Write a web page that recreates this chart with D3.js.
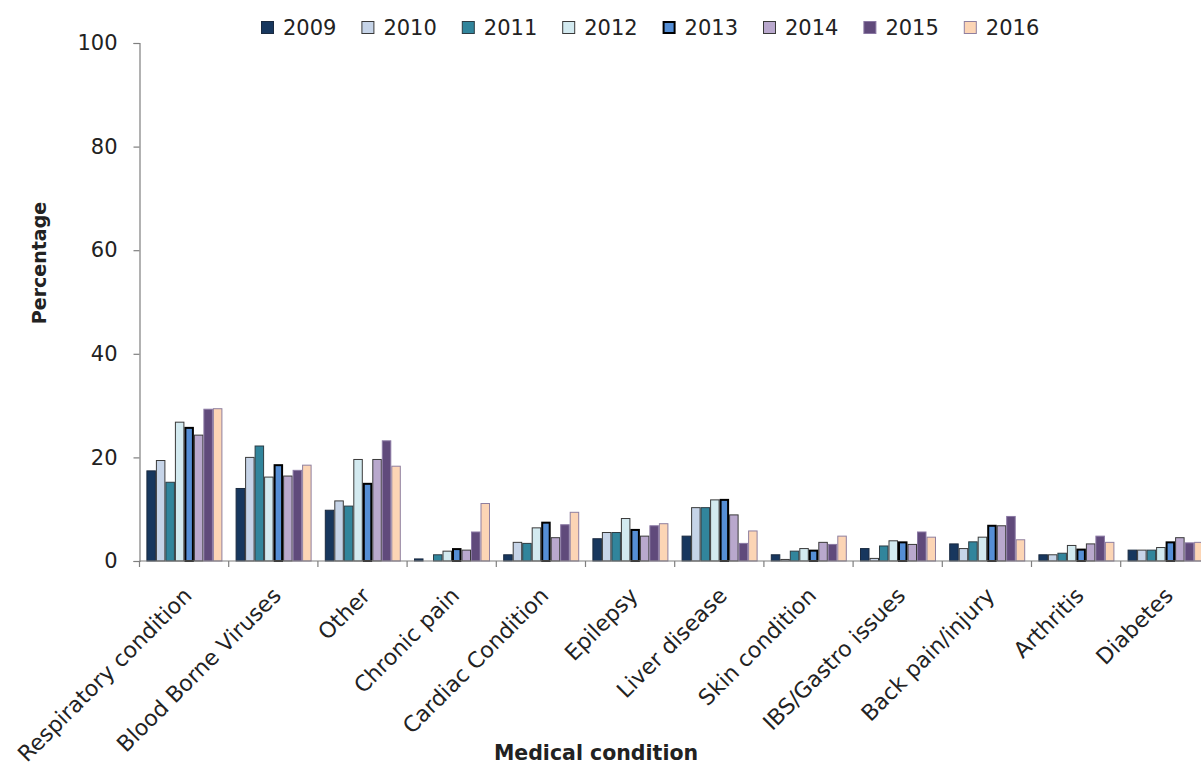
<!DOCTYPE html>
<html>
<head>
<meta charset="utf-8">
<script src="https://cdn.jsdelivr.net/npm/d3@7"></script>
<style>
  html, body { margin: 0; padding: 0; background: #fff; overflow: hidden; }
  svg { display: block; }
  text { font-family: "DejaVu Sans", sans-serif; fill: #222; }
</style>
</head>
<body>
<svg id="chart" width="1201" height="767"></svg>
<script>
// Medical conditions reported, by year (percentage)
const categories = [
  "Respiratory condition", "Blood Borne Viruses", "Other", "Chronic pain",
  "Cardiac Condition", "Epilepsy", "Liver disease", "Skin condition",
  "IBS/Gastro issues", "Back pain/injury", "Arthritis", "Diabetes"
];
const years = ["2009", "2010", "2011", "2012", "2013", "2014", "2015", "2016"];

const v2009 = [17.4, 14.0, 9.8, 0.4, 1.2, 4.3, 4.8, 1.2, 2.4, 3.3, 1.2, 2.1];
const v2010 = [19.4, 20.0, 11.6, 0.0, 3.6, 5.5, 10.3, 0.3, 0.5, 2.4, 1.2, 2.1];
const v2011 = [15.2, 22.2, 10.6, 1.2, 3.4, 5.5, 10.3, 1.9, 2.9, 3.7, 1.5, 2.1];
const v2012 = [26.8, 16.2, 19.6, 1.9, 6.4, 8.2, 11.8, 2.4, 3.9, 4.6, 3.0, 2.6];
const v2013 = [25.7, 18.5, 14.9, 2.3, 7.4, 6.0, 11.8, 2.0, 3.6, 6.8, 2.2, 3.6];
const v2014 = [24.3, 16.4, 19.6, 2.1, 4.5, 4.8, 8.9, 3.6, 3.2, 6.8, 3.3, 4.5];
const v2015 = [29.3, 17.5, 23.2, 5.6, 7.0, 6.8, 3.4, 3.2, 5.6, 8.6, 4.8, 3.5];
const v2016 = [29.4, 18.5, 18.3, 11.1, 9.4, 7.2, 5.8, 4.8, 4.6, 4.1, 3.6, 3.6];

const seriesValues = [v2009, v2010, v2011, v2012, v2013, v2014, v2015, v2016];
const yTicks = [0, 20, 40, 60, 80, 100];

// Series styling
const fills   = ["#17375E", "#C6D4E8", "#31859C", "#D3EAF0", "#558ED5", "#B9A8CD", "#604A7B", "#FCD5B5"];
const strokes = ["#1a2a40", "#3a3a3a", "#2c3c44", "#3a3a3a", "#000000", "#3a3a3a", "#8a78a3", "#8f7f9f"];
const strokeW = [1, 1, 1, 1, 2, 1, 1, 1];

const svg = d3.select("#chart");

const plot = { left: 139.5, top: 43, bottom: 561, groupW: 89.2 };

const x0 = d3.scaleBand()
  .domain(categories)
  .range([plot.left, plot.left + plot.groupW * categories.length])
  .paddingInner(0).paddingOuter(0);

const x1 = d3.scaleBand()
  .domain(years)
  .range([6.9, 6.9 + 76])
  .padding(0);

const y = d3.scaleLinear().domain([0, 100]).range([plot.bottom, plot.top]);

// Bars
const groups = svg.append("g").selectAll("g")
  .data(categories)
  .join("g")
  .attr("transform", d => `translate(${x0(d)},0)`);

groups.selectAll("rect")
  .data((c, ci) => years.map((yr, si) => ({ yr, si, v: seriesValues[si][ci] })))
  .join("rect")
  .attr("x", d => x1(d.yr) + strokeW[d.si] / 2)
  .attr("width", d => x1.bandwidth() - strokeW[d.si])
  .attr("y", d => y(d.v))
  .attr("height", d => Math.max(0, y(0) - y(d.v)))
  .attr("fill", d => fills[d.si])
  .attr("stroke", d => strokes[d.si])
  .attr("stroke-width", d => strokeW[d.si]);

// Y axis
const yAxis = d3.axisLeft(y).tickValues(yTicks).tickSize(6).tickPadding(16);
const gy = svg.append("g")
  .attr("transform", `translate(${plot.left},0)`)
  .call(yAxis);
gy.select(".domain").attr("stroke", "#7f7f7f").attr("stroke-width", 1.2);
gy.selectAll(".tick line").attr("stroke", "#7f7f7f").attr("stroke-width", 1.2);
gy.selectAll(".tick text")
  .attr("font-family", "DejaVu Sans, sans-serif")
  .attr("font-size", 21)
  .attr("fill", "#222");

// X axis: line along zero with tick marks at group boundaries
const gx = svg.append("g");
gx.append("line")
  .attr("x1", plot.left).attr("x2", x0.range()[1])
  .attr("y1", y(0)).attr("y2", y(0))
  .attr("stroke", "#7f7f7f").attr("stroke-width", 1.2);
const boundaries = categories.map(c => x0(c)).concat([x0.range()[1]]);
gx.selectAll("line.tk")
  .data(boundaries)
  .join("line")
  .attr("class", "tk")
  .attr("x1", d => d).attr("x2", d => d)
  .attr("y1", y(0)).attr("y2", y(0) + 6)
  .attr("stroke", "#7f7f7f").attr("stroke-width", 1.2);

// Category labels, rotated
gx.selectAll("text.cat")
  .data(categories)
  .join("text")
  .attr("class", "cat")
  .attr("text-anchor", "end")
  .attr("font-size", 22)
  .attr("transform", d => `translate(${x0(d) + x0.bandwidth() / 2 + 9},${y(0) + 36}) rotate(-45)`)
  .text(d => d);

// Axis titles
svg.append("text")
  .attr("text-anchor", "middle")
  .attr("font-size", 20.5)
  .attr("font-weight", "bold")
  .attr("x", 596).attr("y", 760)
  .text("Medical condition");

svg.append("text")
  .attr("text-anchor", "middle")
  .attr("font-size", 19)
  .attr("font-weight", "bold")
  .attr("transform", "translate(46,263) rotate(-90)")
  .text("Percentage");

// Legend
const legend = svg.append("g").attr("transform", "translate(261,20)");
const item = legend.selectAll("g")
  .data(years)
  .join("g")
  .attr("transform", (d, i) => `translate(${i * 100.4},0)`);
item.append("rect")
  .attr("x", (d, i) => strokeW[i] / 2)
  .attr("y", (d, i) => 1 + strokeW[i] / 2)
  .attr("width", (d, i) => 13 - strokeW[i])
  .attr("height", (d, i) => 13 - strokeW[i])
  .attr("fill", (d, i) => fills[i])
  .attr("stroke", (d, i) => strokes[i])
  .attr("stroke-width", (d, i) => strokeW[i]);
item.append("text")
  .attr("x", 22)
  .attr("y", 15)
  .attr("font-size", 21)
  .text(d => d);
</script>
</body>
</html>
